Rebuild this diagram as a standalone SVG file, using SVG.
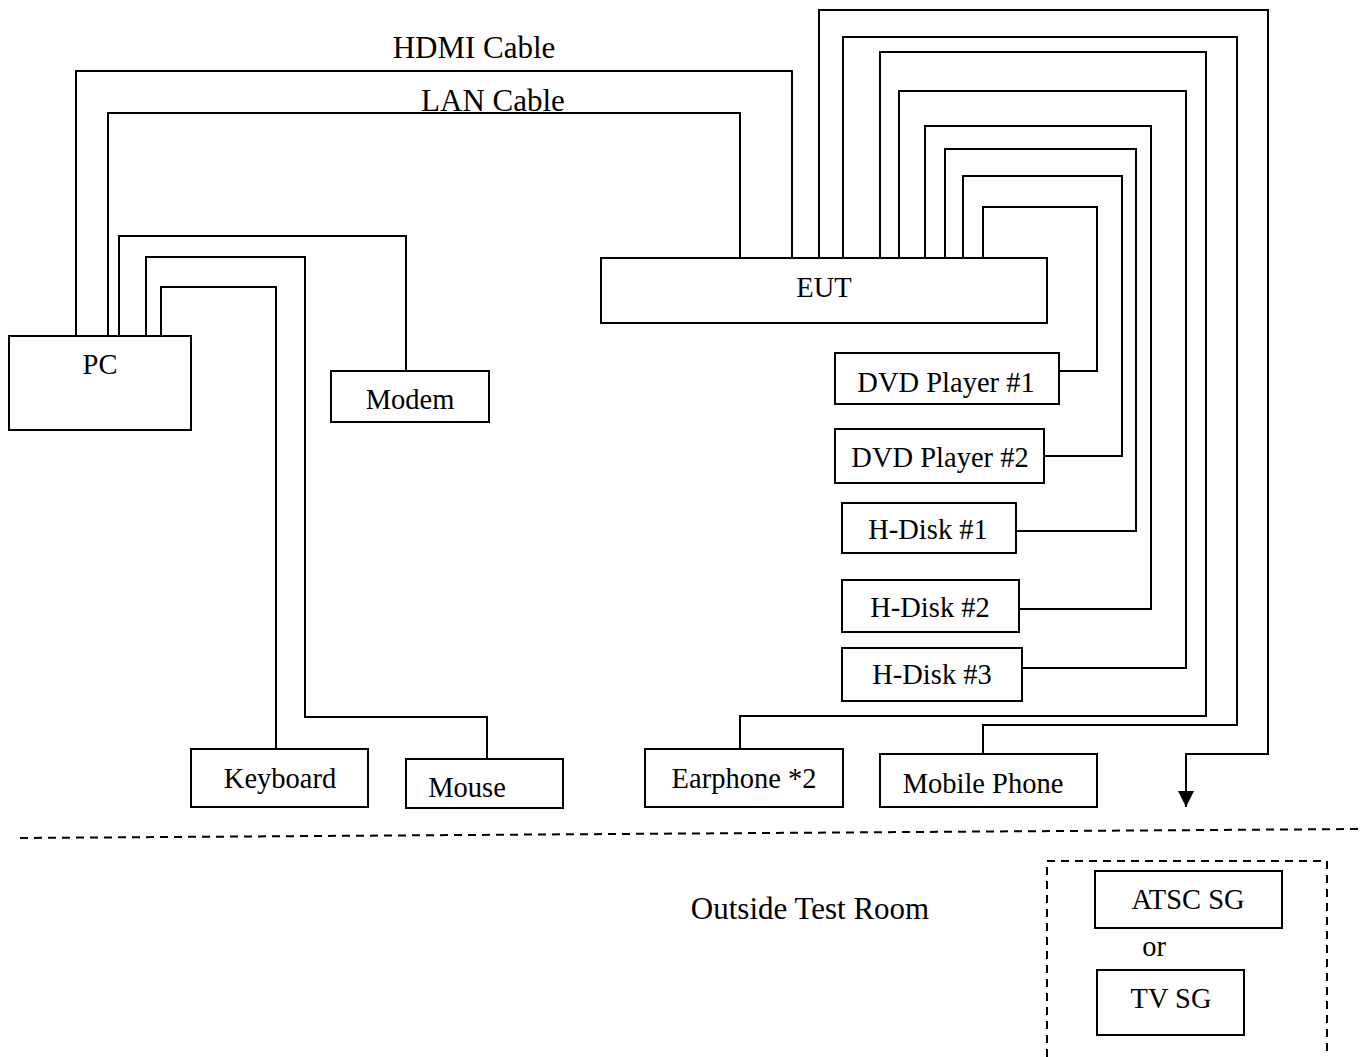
<svg xmlns="http://www.w3.org/2000/svg" width="1367" height="1057" viewBox="0 0 1367 1057">
<style>
.box{fill:#fff;stroke:#000;stroke-width:2}
.ln{fill:none;stroke:#000;stroke-width:2}
.dash{fill:none;stroke:#000;stroke-width:2;stroke-dasharray:8 6}
text{font-family:"Liberation Serif","Times New Roman",serif;fill:#000;text-anchor:middle}
.lbl{font-size:28.5px}
.big{font-size:31px}
</style>
<defs>
<marker id="arr" viewBox="0 0 16 16" refX="16" refY="8" markerWidth="16" markerHeight="16" markerUnits="userSpaceOnUse" orient="auto">
<path d="M0,0 L16,8 L0,16 Z" fill="#000"/>
</marker>
</defs>
<rect width="1367" height="1057" fill="#fff"/>
<g id="connectors">
<polyline class="ln" points="76,336 76,71 792,71 792,258"/>
<polyline class="ln" points="108,336 108,113 740,113 740,258"/>
<polyline class="ln" points="119,336 119,236 406,236 406,371"/>
<polyline class="ln" points="146,336 146,257 305,257 305,717 487,717 487,759"/>
<polyline class="ln" points="161,336 161,287 276,287 276,749"/>
<polyline class="ln" points="819,258 819,10 1268,10 1268,754 1186,754 1186,807" marker-end="url(#arr)"/>
<polyline class="ln" points="843,258 843,37 1237,37 1237,725 983,725 983,754"/>
<polyline class="ln" points="880,258 880,52 1206,52 1206,716 740,716 740,749"/>
<polyline class="ln" points="899,258 899,91 1186,91 1186,668 1022,668"/>
<polyline class="ln" points="925,258 925,126 1151,126 1151,609 1017,609"/>
<polyline class="ln" points="945,258 945,149 1136,149 1136,531 1016,531"/>
<polyline class="ln" points="963,258 963,176 1122,176 1122,456 1044,456"/>
<polyline class="ln" points="983,258 983,207 1097,207 1097,371 1059,371"/>
<text class="big" x="474" y="58">HDMI Cable</text>
<text class="big" x="493" y="111">LAN Cable</text>
</g>
<g id="pc"><rect class="box" x="9" y="336" width="182" height="94"/><text class="lbl" x="100" y="374">PC</text></g>
<g id="modem"><rect class="box" x="331" y="371" width="158" height="51"/><text class="lbl" x="410" y="409">Modem</text></g>
<g id="eut"><rect class="box" x="601" y="258" width="446" height="65"/><text class="lbl" x="824" y="297">EUT</text></g>
<g id="dvd1"><rect class="box" x="835" y="353" width="224" height="51"/><text class="lbl" x="946" y="392">DVD Player #1</text></g>
<g id="dvd2"><rect class="box" x="835" y="429" width="209" height="54"/><text class="lbl" x="940" y="467">DVD Player #2</text></g>
<g id="hdisk1"><rect class="box" x="842" y="503" width="174" height="50"/><text class="lbl" x="928" y="539">H-Disk #1</text></g>
<g id="hdisk2"><rect class="box" x="842" y="580" width="177" height="52"/><text class="lbl" x="930" y="617">H-Disk #2</text></g>
<g id="hdisk3"><rect class="box" x="842" y="648" width="180" height="53"/><text class="lbl" x="932" y="684">H-Disk #3</text></g>
<g id="keyboard"><rect class="box" x="191" y="749" width="177" height="58"/><text class="lbl" x="280" y="788">Keyboard</text></g>
<g id="mouse"><rect class="box" x="406" y="759" width="157" height="49"/><text class="lbl" x="467" y="797">Mouse</text></g>
<g id="earphone"><rect class="box" x="645" y="749" width="198" height="58"/><text class="lbl" x="744" y="788">Earphone *2</text></g>
<g id="mobile"><rect class="box" x="880" y="754" width="217" height="53"/><text class="lbl" x="983" y="793">Mobile Phone</text></g>
<g id="boundary">
<line class="dash" x1="20" y1="838" x2="1358" y2="829"/>
<text class="big" x="810" y="919">Outside Test Room</text>
</g>
<g id="sg-group">
<path class="dash" d="M1047,1057 L1047,861 L1327,861 L1327,1057"/>
<g id="atsc"><rect class="box" x="1095" y="871" width="187" height="57"/><text class="lbl" x="1188" y="909">ATSC SG</text></g>
<text class="lbl" x="1154" y="956">or</text>
<g id="tvsg"><rect class="box" x="1097" y="970" width="147" height="65"/><text class="lbl" x="1171" y="1008">TV SG</text></g>
</g>
</svg>
